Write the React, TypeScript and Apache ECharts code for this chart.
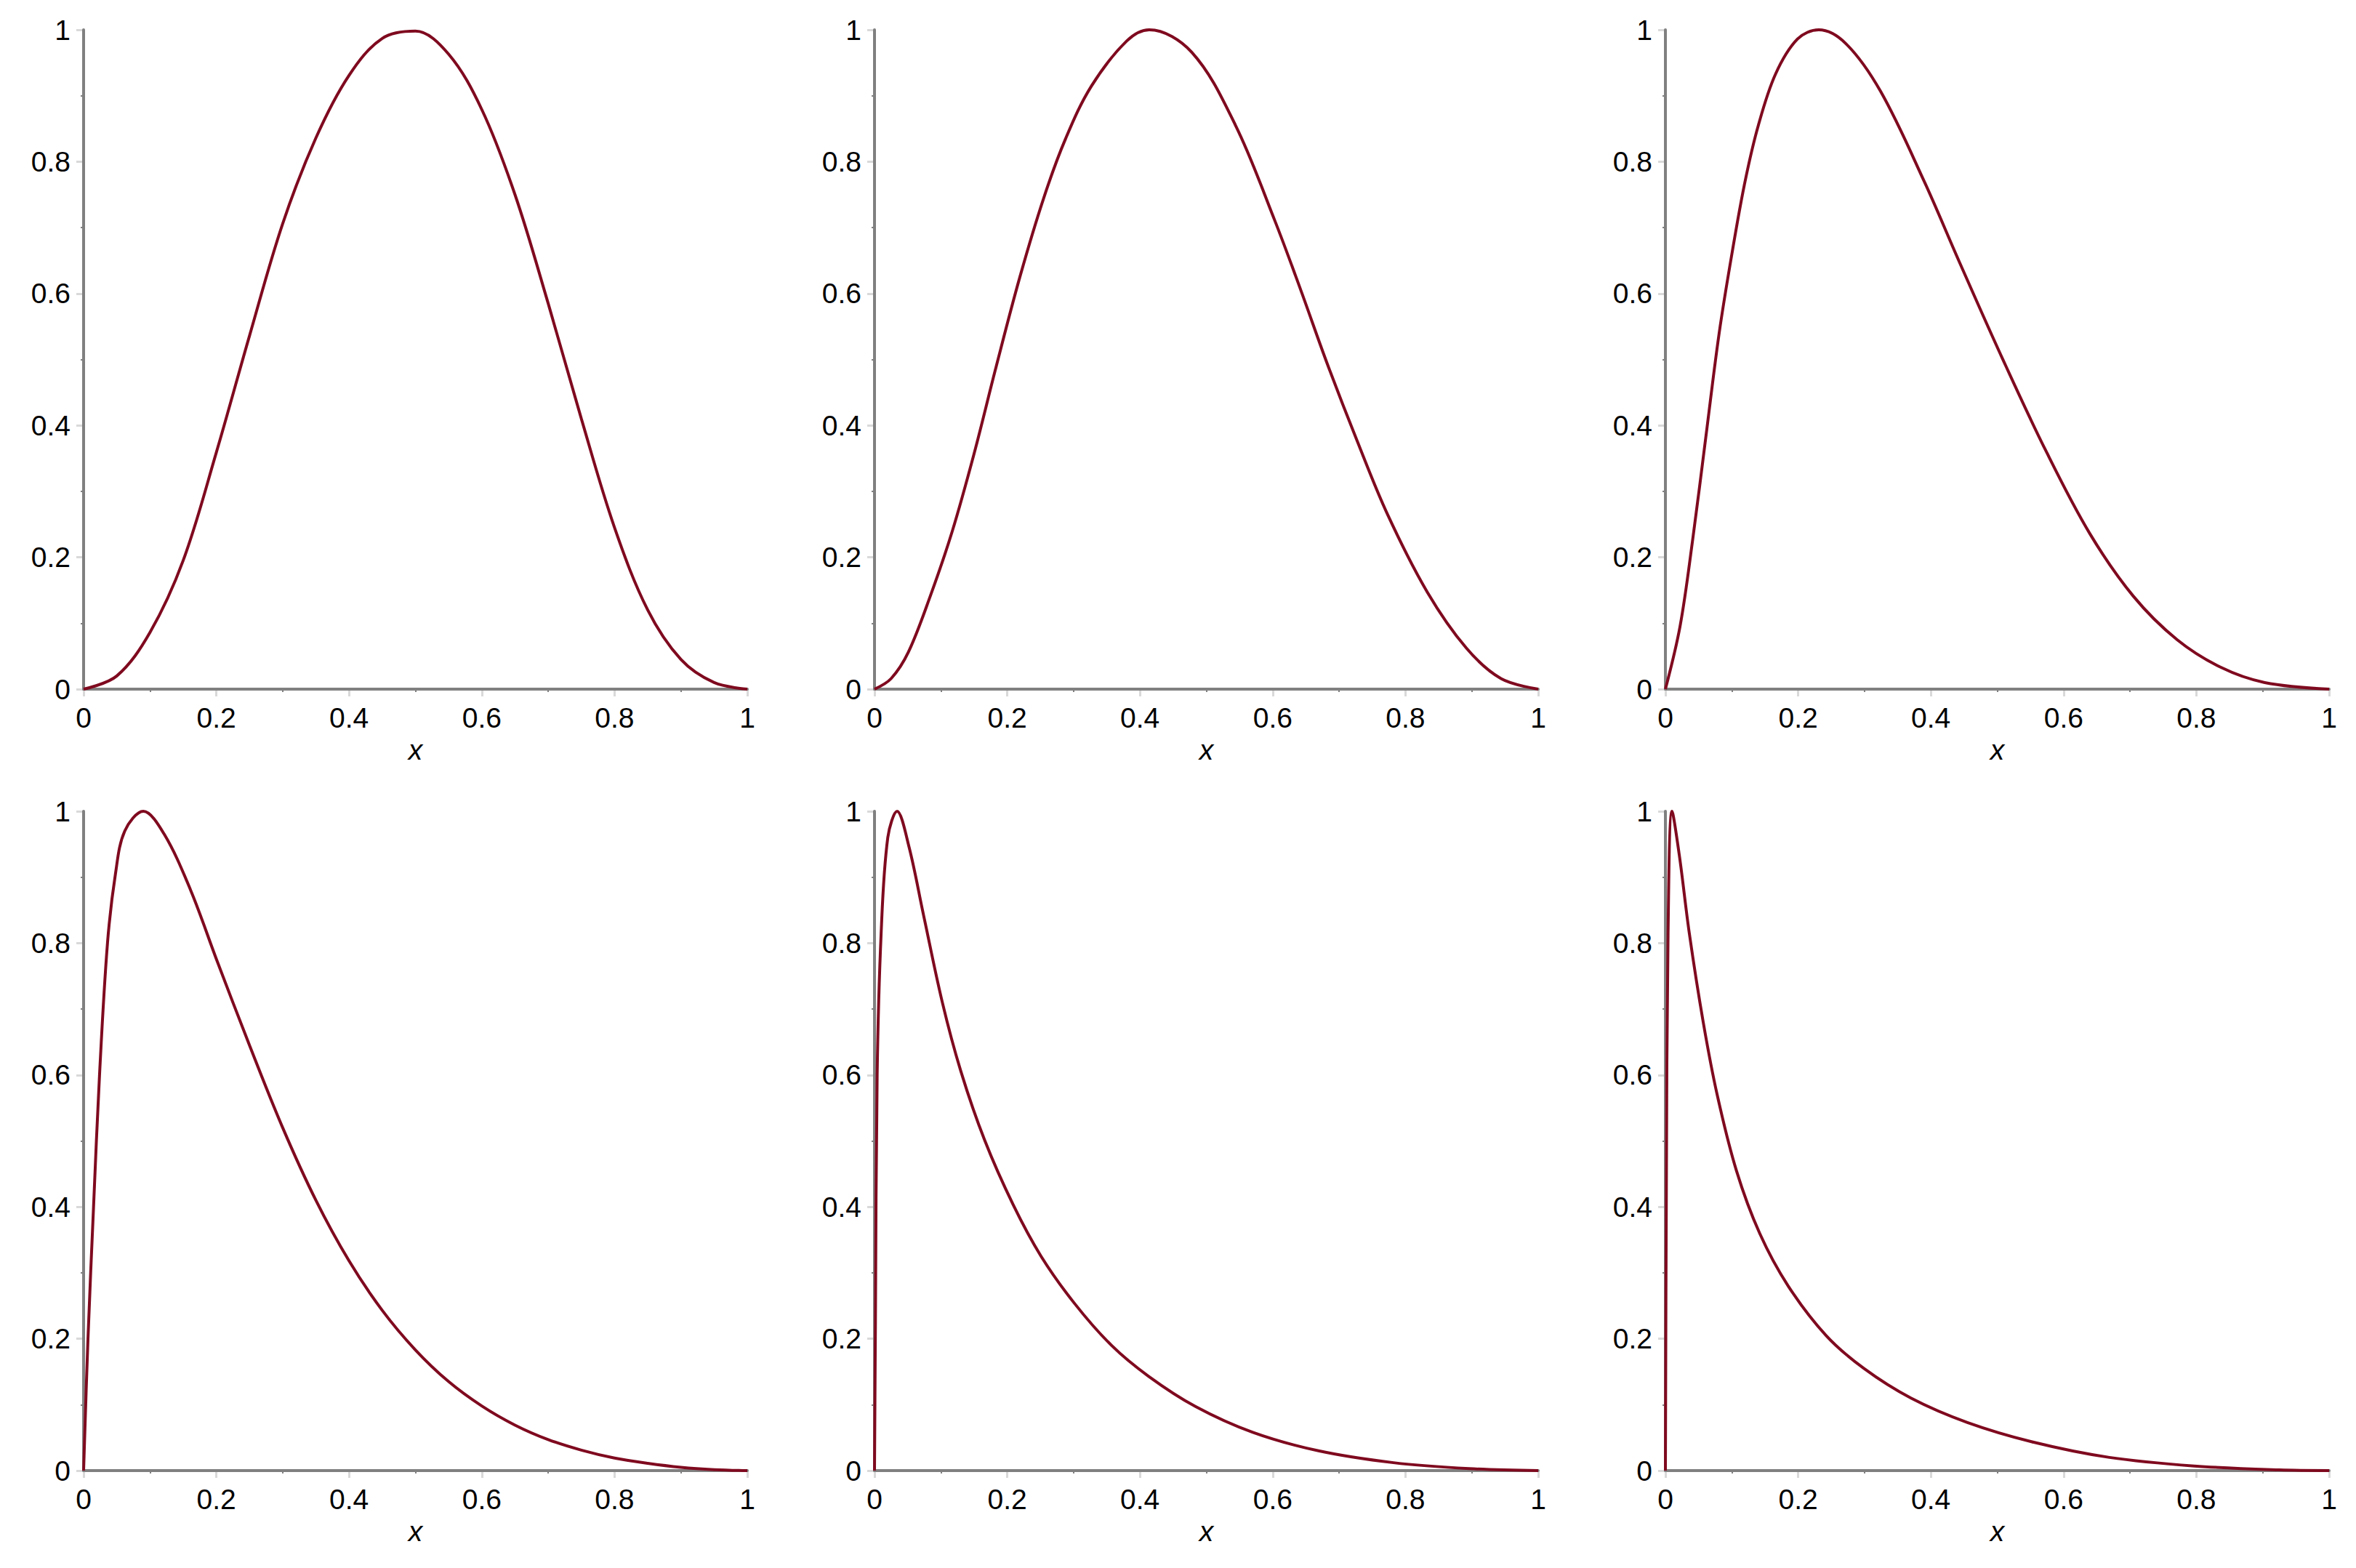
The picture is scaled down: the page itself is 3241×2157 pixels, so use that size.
import React, { useEffect, useRef } from "react";
import * as echarts from "echarts";

// Points: [x, y]
const panel1: [number, number][] = [
  [0, 0], [0.05, 0.02], [0.1, 0.086], [0.15, 0.195], [0.2, 0.359], [0.25, 0.536],
  [0.3, 0.706], [0.35, 0.836], [0.4, 0.931], [0.45, 0.987], [0.5, 0.998], [0.55, 0.963],
  [0.6, 0.879], [0.65, 0.75], [0.7, 0.585], [0.75, 0.41], [0.8, 0.245], [0.85, 0.12],
  [0.9, 0.045], [0.95, 0.01], [1, 0],
];
const panel2: [number, number][] = [
  [0, 0], [0.025, 0.016], [0.051, 0.056], [0.084, 0.141], [0.117, 0.239], [0.15, 0.357],
  [0.183, 0.488], [0.219, 0.625], [0.255, 0.745], [0.288, 0.835], [0.327, 0.915], [0.38, 0.983],
  [0.414, 1], [0.478, 0.966], [0.544, 0.855], [0.603, 0.711], [0.642, 0.606], [0.682, 0.494],
  [0.727, 0.377], [0.773, 0.265], [0.833, 0.147], [0.892, 0.062], [0.944, 0.016], [1, 0],
];
const panel3: [number, number][] = [
  [0, 0], [0.022, 0.095], [0.041, 0.226], [0.061, 0.383], [0.081, 0.54], [0.101, 0.665],
  [0.12, 0.77], [0.14, 0.855], [0.166, 0.933], [0.199, 0.986], [0.231, 1], [0.272, 0.979],
  [0.324, 0.907], [0.39, 0.77], [0.442, 0.65], [0.508, 0.501], [0.574, 0.36], [0.64, 0.235],
  [0.705, 0.141], [0.771, 0.075], [0.837, 0.033], [0.903, 0.01], [1, 0],
];
const panel4: [number, number][] = [
  [0, 0], [0.0066, 0.2], [0.015, 0.4], [0.024, 0.6], [0.036, 0.8], [0.048, 0.905],
  [0.062, 0.97], [0.09, 1], [0.121, 0.966], [0.161, 0.881], [0.2, 0.776], [0.25, 0.645],
  [0.3, 0.52], [0.35, 0.41], [0.4, 0.318], [0.45, 0.243], [0.5, 0.183], [0.55, 0.135],
  [0.6, 0.098], [0.65, 0.069], [0.7, 0.047], [0.75, 0.031], [0.8, 0.019], [0.85, 0.011],
  [0.9, 0.005], [0.95, 0.0015], [1, 0],
];
const panel5: [number, number][] = [
  [0, 0], [0.0014, 0.226], [0.004, 0.6], [0.01, 0.815], [0.02, 0.96], [0.034, 1],
  [0.052, 0.946], [0.074, 0.842], [0.102, 0.711], [0.13, 0.606], [0.166, 0.501], [0.209, 0.403],
  [0.251, 0.325], [0.301, 0.254], [0.357, 0.19], [0.413, 0.143], [0.484, 0.097], [0.57, 0.058],
  [0.669, 0.03], [0.782, 0.012], [0.896, 0.003], [1, 0],
];
const panel6: [number, number][] = [
  [0, 0], [0.0014, 0.42], [0.004, 0.815], [0.01, 1], [0.021, 0.933], [0.036, 0.815],
  [0.057, 0.68], [0.078, 0.57], [0.107, 0.455], [0.142, 0.36], [0.185, 0.28], [0.242, 0.205],
  [0.299, 0.155], [0.37, 0.11], [0.455, 0.073], [0.555, 0.043], [0.669, 0.02], [0.797, 0.007],
  [0.925, 0.001], [1, 0],
];

const panels = [panel1, panel2, panel3, panel4, panel5, panel6];

const AXIS_MIN = 0;
const AXIS_MAX = 1;
const AXIS_STEP = 0.2;
const X_NAME = "x";

const LINE_COLOR = "#7f0a1f";
const AXIS_COLOR = "#808080";
const TICK_COLOR = "#d9d9d9";
const FONT = "Liberation Sans";
const FONT_SIZE = 39;

const COL_LEFT = [115, 1203, 2291];
const ROW_TOP = [41, 1116];
const GRID_W = 913;
const GRID_H = 907;

export default function App() {
  const ref = useRef<HTMLDivElement>(null);

  useEffect(() => {
    if (!ref.current) return;
    const chart = echarts.init(ref.current, null, { renderer: "svg" });

    const grid: any[] = [];
    const xAxis: any[] = [];
    const yAxis: any[] = [];
    const series: any[] = [];

    const labelStyle = { color: "#000", fontFamily: FONT, fontSize: FONT_SIZE };

    panels.forEach((pts, i) => {
      const r = Math.floor(i / 3);
      const c = i % 3;
      grid.push({ left: COL_LEFT[c], top: ROW_TOP[r], width: GRID_W, height: GRID_H, containLabel: false });

      const common = {
        type: "value",
        gridIndex: i,
        min: AXIS_MIN,
        max: AXIS_MAX,
        interval: AXIS_STEP,
        splitLine: { show: false },
        minorSplitLine: { show: false },
      };

      xAxis.push({
        ...common,
        position: "bottom",
        axisLine: { show: false, onZero: false },
        axisTick: { show: true, length: 10, lineStyle: { color: TICK_COLOR, width: 3 } },
        minorTick: { show: true, splitNumber: 2, length: 4, lineStyle: { color: AXIS_COLOR, width: 2 } },
        axisLabel: { ...labelStyle, margin: 20 },
        name: X_NAME,
        nameLocation: "middle",
        nameGap: 64,
        nameTextStyle: { ...labelStyle, fontStyle: "italic" },
        z: 0,
      });
      xAxis.push({
        ...common,
        position: "bottom",
        axisLine: { show: true, onZero: false, lineStyle: { color: AXIS_COLOR, width: 4 } },
        axisTick: { show: false },
        minorTick: { show: false },
        axisLabel: { show: false },
        z: 1,
      });

      yAxis.push({
        ...common,
        position: "left",
        axisLine: { show: false, onZero: false },
        axisTick: { show: true, length: 10, lineStyle: { color: TICK_COLOR, width: 3 } },
        minorTick: { show: true, splitNumber: 2, length: 4, lineStyle: { color: AXIS_COLOR, width: 2 } },
        axisLabel: { ...labelStyle, margin: 18 },
        z: 0,
      });
      yAxis.push({
        ...common,
        position: "left",
        axisLine: { show: true, onZero: false, lineStyle: { color: AXIS_COLOR, width: 4 } },
        axisTick: { show: false },
        minorTick: { show: false },
        axisLabel: { show: false },
        z: 1,
      });

      series.push({
        type: "line",
        xAxisIndex: 2 * i,
        yAxisIndex: 2 * i,
        data: pts,
        showSymbol: false,
        smooth: 0.35,
        clip: false,
        lineStyle: { color: LINE_COLOR, width: 4 },
        z: 5,
      });
    });

    chart.setOption({
      animation: false,
      backgroundColor: "#ffffff",
      grid,
      xAxis,
      yAxis,
      series,
    });

    return () => chart.dispose();
  }, []);

  return (
    <div
      ref={ref}
      style={{ position: "absolute", left: 0, top: 0, width: 3241, height: 2157, background: "#fff" }}
    />
  );
}
